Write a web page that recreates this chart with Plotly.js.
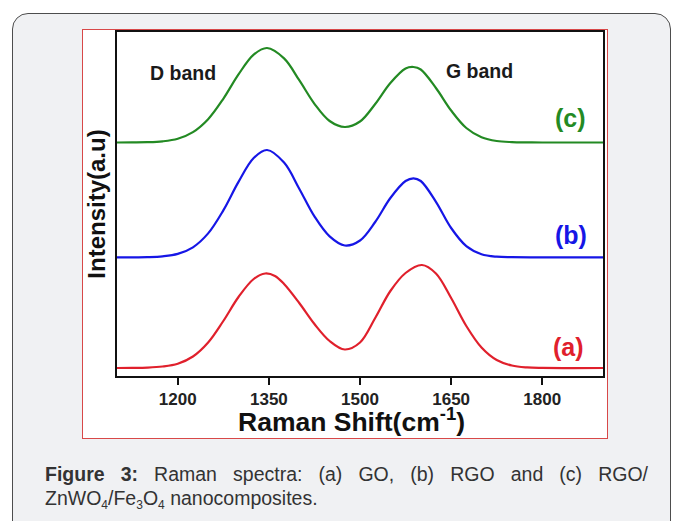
<!DOCTYPE html>
<html>
<head>
<meta charset="utf-8">
<script src="https://cdn.plot.ly/plotly-3.0.1.min.js"></script>
<style>
  html, body { margin:0; padding:0; background:#ffffff; width:675px; height:521px; overflow:hidden; }
  #box { position:absolute; left:12px; top:13px; width:659px; height:525px; box-sizing:border-box;
         border:1.5px solid #4d4d4d; border-radius:16px; background:#f0f1f3; }
  #frame { position:absolute; left:82px; top:29px; width:526px; height:410px; box-sizing:border-box;
           border:1px solid #d84848; background:#ffffff; }
  #chart { width:524px; height:408px; }
  .cap { position:absolute; left:45px; width:603px; font-family:"Liberation Sans", Arial, sans-serif;
         font-size:19.5px; line-height:24px; color:#333333; white-space:nowrap; }
  #cap1 { top:462px; text-align:justify; text-align-last:justify; white-space:normal; }
  #cap2 { top:486px; text-align:left; }
  .cap sub { font-size:12px; line-height:0; vertical-align:-4px; }
</style>
</head>
<body>
<div id="box"></div>
<div id="frame"><div id="chart"></div></div>
<div class="cap" id="cap1"><b>Figure 3:</b> Raman spectra: (a) GO, (b) RGO and (c) RGO/</div>
<div class="cap" id="cap2">ZnWO<sub>4</sub>/Fe<sub>3</sub>O<sub>4</sub> nanocomposites.</div>
<script>
// Raman shift (cm^-1) and intensity (a.u., curves stacked with offsets)
const shiftC = [1100,1125,1150,1175,1200,1225,1250,1275,1300,1325,1347,1375,1400,1425,1450,1475,1500,1525,1550,1575,1588,1600,1625,1650,1675,1700,1725,1750,1775,1800,1900];
const intC   = [233.5,233.6,233.8,234.7,237.3,243.9,256.8,277.2,301.6,321.4,328.0,317.6,295.8,272.2,255,249,254.5,272,293,307.5,309,306.5,288,265.5,248,238.8,235,233.9,233.6,233.5,233.5];

const shiftB = [1100,1125,1150,1175,1200,1225,1250,1275,1300,1325,1347,1375,1400,1425,1450,1475,1500,1525,1550,1575,1588,1600,1625,1650,1675,1700,1725,1750,1800,1900];
const intB   = [118.7,118.7,118.9,119.7,122.1,128.7,142.6,165.6,194.1,218.0,226.0,213.4,187.3,159.6,139.6,130.5,135.5,154,178,195,197.7,195,174.2,148,129.9,121.8,119.3,118.8,118.7,118.7];

const shiftA = [1100,1125,1150,1175,1200,1225,1250,1275,1300,1325,1344,1360,1375,1400,1425,1450,1475,1500,1525,1550,1575,1602,1625,1650,1675,1700,1725,1750,1775,1800,1900];
const intA   = [8.0,8.1,8.4,9.5,12.3,19.5,33.5,55,79,97,102.5,100,92,73,52,35,26.5,33.5,58,85,103,111,102.5,78,50,28.5,16,10.5,8.6,8.1,8.0];

const tickVals = [1200,1350,1500,1650,1800];
const tickText = ['1200','1350','1500','1650','1800'];
const curveLabels = ['(a)','(b)','(c)'];
const bandLabels = ['D band','G band'];
const xTitle = 'Raman Shift(cm<sup>-1</sup>)';
const yTitle = 'Intensity(a.u)';

const FONT = '"Liberation Sans", Arial, sans-serif';
const green = '#238a23', blue = '#1616e6', red = '#e0202c';

const traces = [
  {x: shiftA, y: intA, mode:'lines', line:{color:red, width:2.2, shape:'spline', smoothing:1}, hoverinfo:'skip'},
  {x: shiftB, y: intB, mode:'lines', line:{color:blue, width:2.2, shape:'spline', smoothing:1}, hoverinfo:'skip'},
  {x: shiftC, y: intC, mode:'lines', line:{color:green, width:2.2, shape:'spline', smoothing:1}, hoverinfo:'skip'}
];

const ann = (text, x, y, color, size) => ({text:text, x:x, y:y, xref:'x', yref:'y', showarrow:false,
  xanchor:'center', yanchor:'middle', font:{family:FONT, size:size, color:color, weight:'bold'}});

const layout = {
  width:524, height:408,
  margin:{l:34, r:4, t:2, b:62},
  paper_bgcolor:'#ffffff', plot_bgcolor:'#ffffff',
  showlegend:false,
  xaxis:{range:[1100,1900], tickvals:tickVals, ticktext:tickText, ticks:'outside', ticklen:7, tickwidth:2,
         tickcolor:'#111', showline:true, linecolor:'#111', linewidth:2, mirror:true, showgrid:false, zeroline:false,
         tickfont:{family:FONT, size:17, color:'#222', weight:'bold'},
         automargin:false},
  yaxis:{range:[0,344], showticklabels:false, ticks:'', showline:true, linecolor:'#111', linewidth:2, mirror:true,
         showgrid:false, zeroline:false,
         title:{text:yTitle, font:{family:FONT, size:24, color:'#111', weight:'bold'}, standoff:6},
         automargin:false},
  annotations:[
    {text:xTitle, xref:'paper', yref:'paper', x:0.483, y:-0.127, xanchor:'center', yanchor:'middle', showarrow:false,
     font:{family:FONT, size:26.5, color:'#111', weight:'bold'}},
    ann(bandLabels[0], 1209, 303, '#1a1a1a', 19.5),
    ann(bandLabels[1], 1697, 305, '#1a1a1a', 19.5),
    ann(curveLabels[2], 1846, 257.7, green, 25),
    ann(curveLabels[1], 1847, 141, blue, 25),
    ann(curveLabels[0], 1844, 29.3, red, 25)
  ]
};

Plotly.newPlot('chart', traces, layout, {staticPlot:true, displayModeBar:false});
</script>
</body>
</html>
